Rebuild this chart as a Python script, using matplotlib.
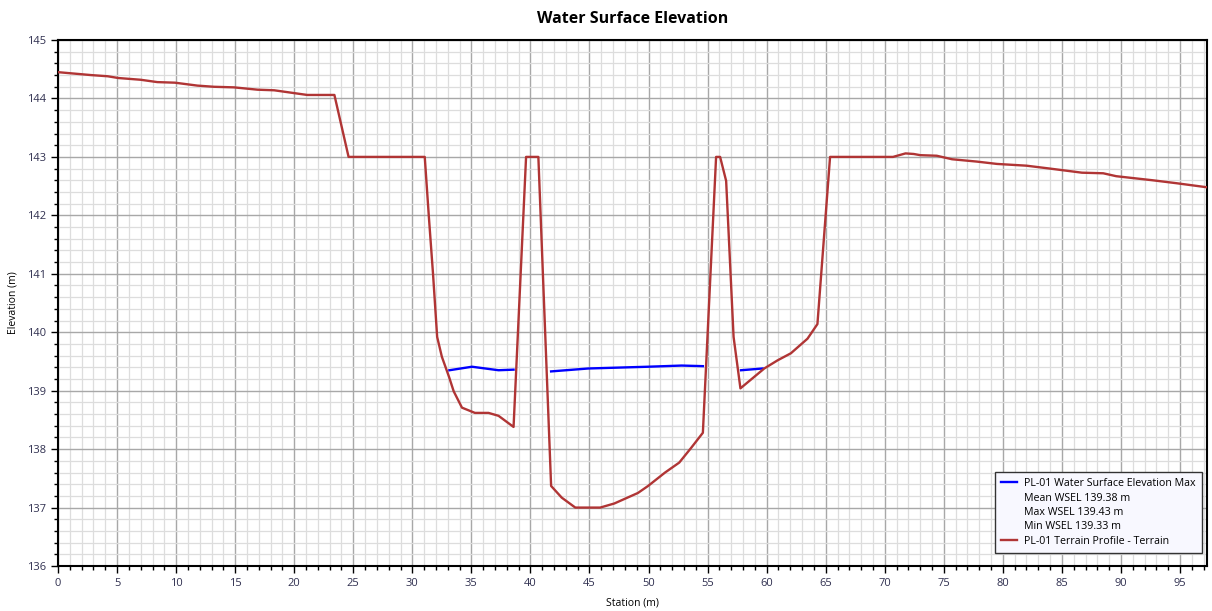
import matplotlib
matplotlib.use('Agg')
import matplotlib.pyplot as plt
from matplotlib.lines import Line2D
from matplotlib.ticker import MultipleLocator

plt.rcParams['font.family'] = ['Open Sans', 'DejaVu Sans']

# terrain profile (station m, elevation m)
terrain_x = [0, 2.8, 4.2, 5.1, 7.0, 8.4, 9.9, 11.8, 13.2, 14.9, 16.9, 18.3, 19.7, 21.1, 23.4,
             24.6, 31.05, 31.4, 31.75, 32.1, 32.5, 33.1, 33.5, 34.2, 35.3, 36.45, 37.3, 38.57,
             39.63, 40.67, 41.75, 42.65, 43.8, 45.9, 47.1, 49.1, 49.96, 51.4, 52.6, 53.6, 54.6,
             55.72, 56.06, 56.57, 57.2, 57.78, 59.8, 60.93, 62.05, 63.46, 64.3, 65.37, 70.7,
             71.76, 72.46, 73.0, 74.4, 75.7, 77.8, 79.5, 82.0, 84.0, 86.7, 88.5, 89.6, 92.7,
             94.7, 97.3]
terrain_y = [144.45, 144.40, 144.38, 144.35, 144.32, 144.28, 144.27, 144.22, 144.20, 144.19,
             144.15, 144.14, 144.10, 144.06, 144.06, 143.0, 143.0, 141.97, 141.0, 139.92,
             139.58, 139.24, 138.99, 138.71, 138.62, 138.62, 138.57, 138.38, 143.0, 143.0,
             137.37, 137.17, 137.0, 137.0, 137.07, 137.25, 137.37, 137.6, 137.77, 138.02,
             138.28, 143.0, 143.0, 142.59, 139.92, 139.04, 139.38, 139.52, 139.64, 139.89,
             140.14, 143.0, 143.0, 143.06, 143.05, 143.03, 143.02, 142.96, 142.92, 142.88,
             142.85, 142.80, 142.73, 142.72, 142.67, 142.60, 142.55, 142.48]

# water surface, three separate pools
ws1_x = [33.14, 35.05, 37.3, 38.57]
ws1_y = [139.35, 139.41, 139.35, 139.36]
ws2_x = [41.75, 44.9, 49.96, 52.8, 54.6]
ws2_y = [139.33, 139.38, 139.41, 139.43, 139.42]
ws3_x = [57.83, 59.66]
ws3_y = [139.35, 139.38]

stats = ['Mean WSEL 139.38 m', 'Max WSEL 139.43 m', 'Min WSEL 139.33 m']

fig = plt.figure(figsize=(12.12, 6.11), dpi=100)
ax = fig.add_axes([0.0479, 0.0736, 0.9481, 0.8609])

red = '#B03535'
blue = '#0000FF'
for xs, ys in [(ws1_x, ws1_y), (ws2_x, ws2_y), (ws3_x, ws3_y)]:
    ax.plot(xs, ys, color=blue, lw=1.7, zorder=3)
ax.plot(terrain_x, terrain_y, color=red, lw=1.7, zorder=4)

ax.set_xlim(0, 97.3)
ax.set_ylim(136, 145)
ax.xaxis.set_major_locator(MultipleLocator(5))
ax.xaxis.set_minor_locator(MultipleLocator(1))
ax.yaxis.set_major_locator(MultipleLocator(1))
ax.yaxis.set_minor_locator(MultipleLocator(0.2))
ax.grid(which='major', color='#A8A8A8', lw=1.0)
ax.grid(which='minor', color='#DDDDDD', lw=0.9)
ax.set_axisbelow(True)
for s in ax.spines.values():
    s.set_linewidth(1.5)
    s.set_color('black')
ax.tick_params(which='major', length=5, width=1, labelsize=8, colors='black', labelcolor='#303050')
ax.tick_params(which='minor', length=3, width=1)

ax.set_title('Water Surface Elevation', fontsize=11.5, fontweight='bold', pad=12)
ax.set_xlabel('Station (m)', fontsize=7.5, labelpad=6)
ax.set_ylabel('Elevation (m)', fontsize=7.5, labelpad=6)

blank = Line2D([], [], color='none')
handles = [Line2D([], [], color=blue, lw=1.7)] + [blank] * 3 + [Line2D([], [], color=red, lw=1.7)]
labels = ['PL-01 Water Surface Elevation Max'] + stats + ['PL-01 Terrain Profile - Terrain']
leg = ax.legend(handles, labels, loc='lower right', fontsize=7.7, frameon=True, fancybox=False,
                handlelength=1.5, handletextpad=0.6, labelspacing=0.32, borderpad=0.6,
                bbox_to_anchor=(1.0, 0.014))
leg.get_frame().set_edgecolor('#333333')
leg.get_frame().set_facecolor('#F8F8FF')
leg.get_frame().set_alpha(1)

fig.savefig('out.png', dpi=100)
